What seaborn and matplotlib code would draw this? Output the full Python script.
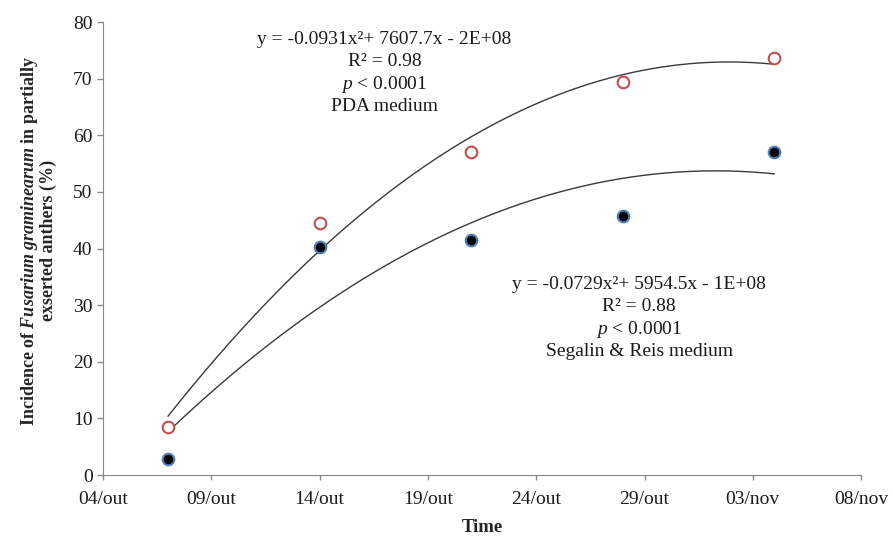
import seaborn as sns
import pandas as pd, numpy as np
import matplotlib.pyplot as plt
import matplotlib.dates as mdates

sns.set_style("white")
plt.rcParams["font.family"] = ["Liberation Serif", "DejaVu Serif"]
plt.rcParams["mathtext.fontset"] = "custom"
plt.rcParams["mathtext.rm"] = "Liberation Serif"
plt.rcParams["mathtext.it"] = "Liberation Serif:italic"
plt.rcParams["mathtext.bf"] = "Liberation Serif:bold:italic"

# data
dates = ["2012-10-07", "2012-10-14", "2012-10-21", "2012-10-28", "2012-11-04"]
pda = [8.4, 44.5, 57.0, 69.5, 73.6]        # PDA medium (open red)
segalin = [2.8, 40.3, 41.5, 45.8, 57.0]    # Segalin & Reis medium (filled)
tick_dates = ["2012-10-04", "2012-10-09", "2012-10-14", "2012-10-19",
              "2012-10-24", "2012-10-29", "2012-11-03", "2012-11-08"]
tick_labels = ["04/out", "09/out", "14/out", "19/out", "24/out", "29/out", "03/nov", "08/nov"]
pda_note = ["y = -0.0931x²+ 7607.7x - 2E+08", "R² = 0.98", "$\\mathit{p}$ < 0.0001", "PDA medium"]
seg_note = ["y = -0.0729x²+ 5954.5x - 1E+08", "R² = 0.88", "$\\mathit{p}$ < 0.0001", "Segalin & Reis medium"]

df = pd.DataFrame({"date": pd.to_datetime(dates), "pda": pda, "seg": segalin})

fig = plt.figure(figsize=(8.93, 5.38), dpi=100)
ax = fig.add_axes([0.1153, 0.117, 0.849, 0.842])

# quadratic trend lines
xn = mdates.date2num(df["date"])
xs = np.linspace(xn.min(), xn.max(), 200)
for col in ["pda", "seg"]:
    c = np.polyfit(xn - xn.min(), df[col], 2)
    ax.plot(mdates.num2date(xs), np.polyval(c, xs - xn.min()), color="#3a3a3a", lw=1.0, zorder=2)

sns.scatterplot(data=df, x="date", y="pda", ax=ax, marker="o", s=70,
                facecolor="white", edgecolor="#c0504d", linewidth=1.5, zorder=3)
sns.scatterplot(data=df, x="date", y="seg", ax=ax, marker="o", s=70,
                color="black", edgecolor="#4f81bd", linewidth=1.5, zorder=3)

ax.set_xlim(pd.Timestamp(tick_dates[0]), pd.Timestamp(tick_dates[-1]))
ax.set_ylim(0, 80)
ax.set_xticks(pd.to_datetime(tick_dates))
ax.set_xticklabels(tick_labels)
ax.set_yticks(range(0, 81, 10))
ax.tick_params(axis="both", labelsize=14, length=4.5, width=1, color="#888888",
               labelcolor="#1a1a1a", direction="out", bottom=True, left=True, pad=3)
ax.tick_params(axis="x", length=3.5, pad=8)
for s in ["top", "right"]:
    ax.spines[s].set_visible(False)
for s in ["left", "bottom"]:
    ax.spines[s].set_color("#888888")

ax.set_xlabel("Time", fontsize=13.5, fontweight="bold", va="center")
ax.xaxis.set_label_coords(0.5, -0.1148)
ax.set_ylabel("Incidence of $\\mathbf{Fusarium\\ graminearum}$ in partially\nexserted anthers (%)",
              fontsize=13, fontweight="bold", linespacing=0.95)
ax.yaxis.set_label_coords(-0.061, 0.517)

# annotation blocks, one text per line with a fixed line step
def note(lines, x, y):
    for i, t in enumerate(lines):
        ax.annotate(t, xy=(pd.Timestamp(x), y), xytext=(0, -16.2 * i), textcoords="offset points",
                    ha="center", va="center", fontsize=14, color="#1a1a1a")

note(pda_note, "2012-10-17 00:00", 77.0)
note(seg_note, "2012-10-28 18:00", 33.7)

fig.savefig("out.png", dpi=100)
